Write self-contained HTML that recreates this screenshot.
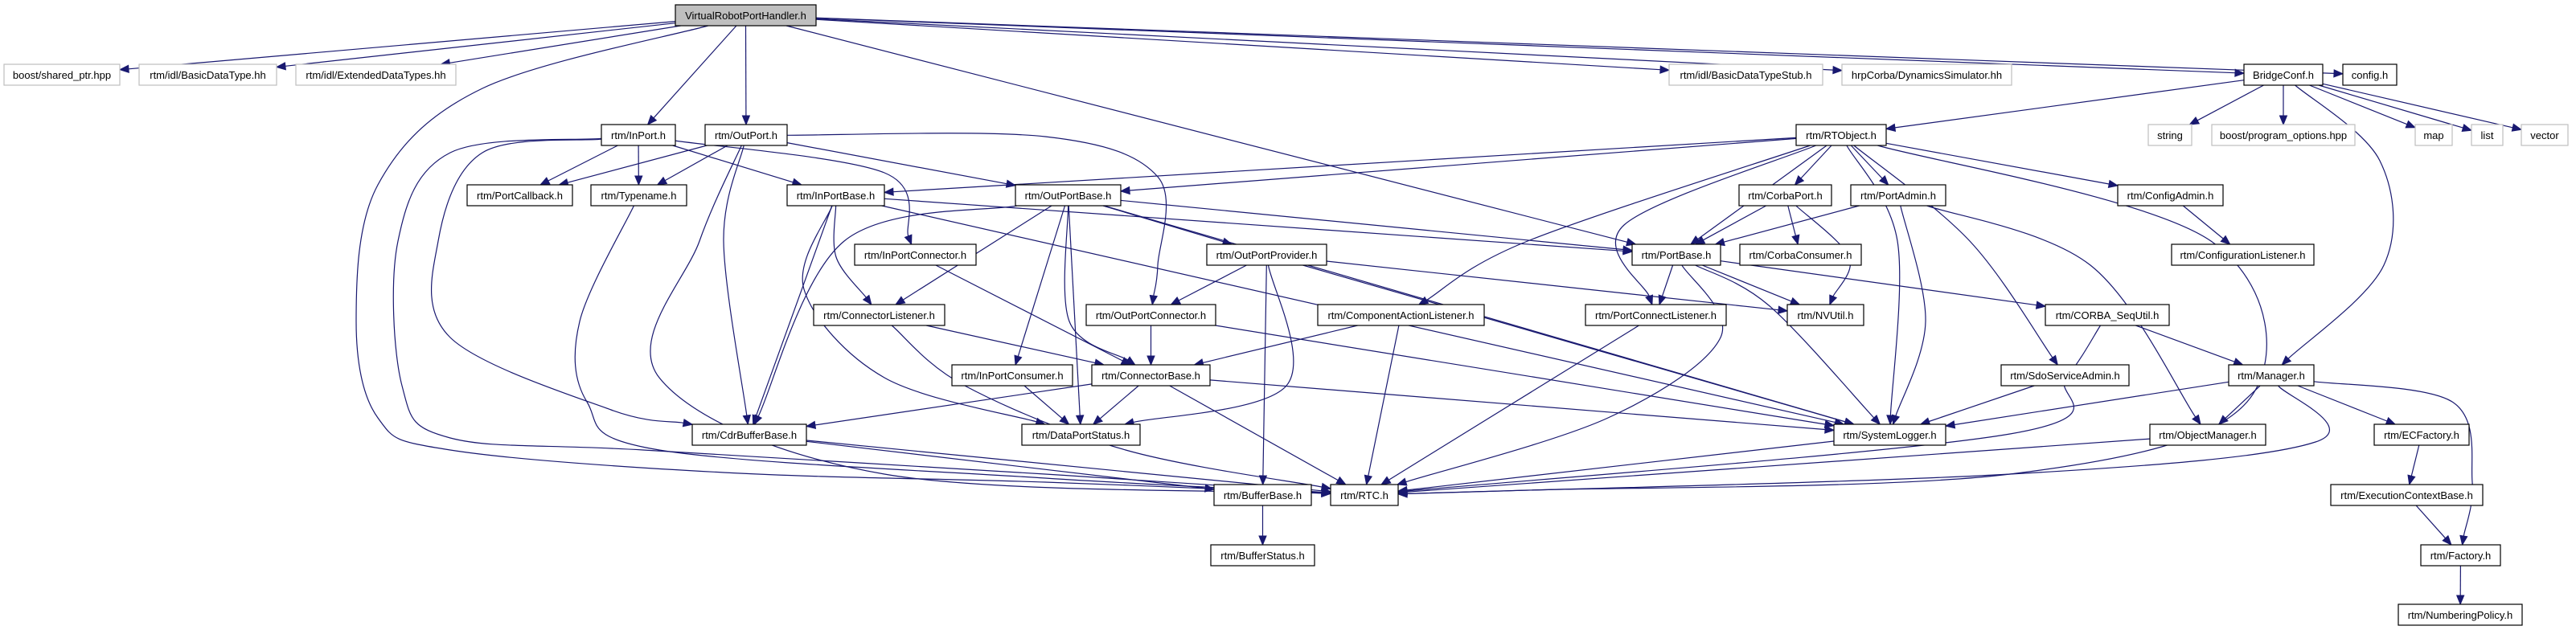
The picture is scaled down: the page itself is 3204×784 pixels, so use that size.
<!DOCTYPE html>
<html><head><meta charset="utf-8"><style>
html,body{margin:0;padding:0;background:#fff;}
svg{display:block;}
text{font-family:"Liberation Sans",sans-serif;font-size:13px;fill:#000;}
</style></head><body>
<svg id="g" width="3204" height="784" viewBox="0 0 3204 784" xmlns="http://www.w3.org/2000/svg">
<g id="edges"></g>
<g id="nodes" stroke-width="1.2">
<rect x="840" y="6" width="175" height="26" fill="#bfbfbf" stroke="#000"/><text x="927.5" y="24" text-anchor="middle">VirtualRobotPortHandler.h</text>
<rect x="5" y="80" width="144" height="26" fill="#fff" stroke="#bfbfbf"/><text x="77" y="98" text-anchor="middle">boost/shared_ptr.hpp</text>
<rect x="173" y="80" width="171" height="26" fill="#fff" stroke="#bfbfbf"/><text x="258.5" y="98" text-anchor="middle">rtm/idl/BasicDataType.hh</text>
<rect x="368" y="80" width="199" height="26" fill="#fff" stroke="#bfbfbf"/><text x="467.5" y="98" text-anchor="middle">rtm/idl/ExtendedDataTypes.hh</text>
<rect x="2076" y="80" width="191" height="26" fill="#fff" stroke="#bfbfbf"/><text x="2171.5" y="98" text-anchor="middle">rtm/idl/BasicDataTypeStub.h</text>
<rect x="2291" y="80" width="211" height="26" fill="#fff" stroke="#bfbfbf"/><text x="2396.5" y="98" text-anchor="middle">hrpCorba/DynamicsSimulator.hh</text>
<rect x="2791" y="80" width="98" height="26" fill="#fff" stroke="#000"/><text x="2840" y="98" text-anchor="middle">BridgeConf.h</text>
<rect x="2914" y="80" width="67" height="26" fill="#fff" stroke="#000"/><text x="2947.5" y="98" text-anchor="middle">config.h</text>

<rect x="748" y="155" width="92" height="26" fill="#fff" stroke="#000"/><text x="794" y="173" text-anchor="middle">rtm/InPort.h</text>
<rect x="877" y="155" width="102" height="26" fill="#fff" stroke="#000"/><text x="928" y="173" text-anchor="middle">rtm/OutPort.h</text>
<rect x="2234" y="155" width="112" height="26" fill="#fff" stroke="#000"/><text x="2290" y="173" text-anchor="middle">rtm/RTObject.h</text>
<rect x="2672" y="155" width="54" height="26" fill="#fff" stroke="#bfbfbf"/><text x="2699" y="173" text-anchor="middle">string</text>
<rect x="2751" y="155" width="178" height="26" fill="#fff" stroke="#bfbfbf"/><text x="2840" y="173" text-anchor="middle">boost/program_options.hpp</text>
<rect x="3004" y="155" width="46" height="26" fill="#fff" stroke="#bfbfbf"/><text x="3027" y="173" text-anchor="middle">map</text>
<rect x="3074" y="155" width="39" height="26" fill="#fff" stroke="#bfbfbf"/><text x="3093.5" y="173" text-anchor="middle">list</text>
<rect x="3136" y="155" width="58" height="26" fill="#fff" stroke="#bfbfbf"/><text x="3165" y="173" text-anchor="middle">vector</text>

<rect x="581" y="230" width="131" height="26" fill="#fff" stroke="#000"/><text x="646.5" y="248" text-anchor="middle">rtm/PortCallback.h</text>
<rect x="735" y="230" width="119" height="26" fill="#fff" stroke="#000"/><text x="794.5" y="248" text-anchor="middle">rtm/Typename.h</text>
<rect x="979" y="230" width="121" height="26" fill="#fff" stroke="#000"/><text x="1039.5" y="248" text-anchor="middle">rtm/InPortBase.h</text>
<rect x="1263" y="230" width="131" height="26" fill="#fff" stroke="#000"/><text x="1328.5" y="248" text-anchor="middle">rtm/OutPortBase.h</text>
<rect x="2163" y="230" width="115" height="26" fill="#fff" stroke="#000"/><text x="2220.5" y="248" text-anchor="middle">rtm/CorbaPort.h</text>
<rect x="2302" y="230" width="118" height="26" fill="#fff" stroke="#000"/><text x="2361" y="248" text-anchor="middle">rtm/PortAdmin.h</text>
<rect x="2634" y="230" width="131" height="26" fill="#fff" stroke="#000"/><text x="2699.5" y="248" text-anchor="middle">rtm/ConfigAdmin.h</text>

<rect x="1063" y="304" width="151" height="26" fill="#fff" stroke="#000"/><text x="1138.5" y="322" text-anchor="middle">rtm/InPortConnector.h</text>
<rect x="1501" y="304" width="149" height="26" fill="#fff" stroke="#000"/><text x="1575.5" y="322" text-anchor="middle">rtm/OutPortProvider.h</text>
<rect x="2030" y="304" width="110" height="26" fill="#fff" stroke="#000"/><text x="2085" y="322" text-anchor="middle">rtm/PortBase.h</text>
<rect x="2164" y="304" width="151" height="26" fill="#fff" stroke="#000"/><text x="2239.5" y="322" text-anchor="middle">rtm/CorbaConsumer.h</text>
<rect x="2701" y="304" width="177" height="26" fill="#fff" stroke="#000"/><text x="2789.5" y="322" text-anchor="middle">rtm/ConfigurationListener.h</text>

<rect x="1012" y="379" width="163" height="26" fill="#fff" stroke="#000"/><text x="1093.5" y="397" text-anchor="middle">rtm/ConnectorListener.h</text>
<rect x="1351" y="379" width="161" height="26" fill="#fff" stroke="#000"/><text x="1431.5" y="397" text-anchor="middle">rtm/OutPortConnector.h</text>
<rect x="1639" y="379" width="207" height="26" fill="#fff" stroke="#000"/><text x="1742.5" y="397" text-anchor="middle">rtm/ComponentActionListener.h</text>
<rect x="1972" y="379" width="175" height="26" fill="#fff" stroke="#000"/><text x="2059.5" y="397" text-anchor="middle">rtm/PortConnectListener.h</text>
<rect x="2223" y="379" width="95" height="26" fill="#fff" stroke="#000"/><text x="2270.5" y="397" text-anchor="middle">rtm/NVUtil.h</text>
<rect x="2544" y="379" width="154" height="26" fill="#fff" stroke="#000"/><text x="2621" y="397" text-anchor="middle">rtm/CORBA_SeqUtil.h</text>

<rect x="1184" y="454" width="150" height="26" fill="#fff" stroke="#000"/><text x="1259" y="472" text-anchor="middle">rtm/InPortConsumer.h</text>
<rect x="1358" y="454" width="147" height="26" fill="#fff" stroke="#000"/><text x="1431.5" y="472" text-anchor="middle">rtm/ConnectorBase.h</text>
<rect x="2489" y="454" width="159" height="26" fill="#fff" stroke="#000"/><text x="2568.5" y="472" text-anchor="middle">rtm/SdoServiceAdmin.h</text>
<rect x="2772" y="454" width="106" height="26" fill="#fff" stroke="#000"/><text x="2825" y="472" text-anchor="middle">rtm/Manager.h</text>

<rect x="861" y="528" width="142" height="26" fill="#fff" stroke="#000"/><text x="932" y="546" text-anchor="middle">rtm/CdrBufferBase.h</text>
<rect x="1271" y="528" width="147" height="26" fill="#fff" stroke="#000"/><text x="1344.5" y="546" text-anchor="middle">rtm/DataPortStatus.h</text>
<rect x="2281" y="528" width="139" height="26" fill="#fff" stroke="#000"/><text x="2350.5" y="546" text-anchor="middle">rtm/SystemLogger.h</text>
<rect x="2674" y="528" width="144" height="26" fill="#fff" stroke="#000"/><text x="2746" y="546" text-anchor="middle">rtm/ObjectManager.h</text>
<rect x="2953" y="528" width="118" height="26" fill="#fff" stroke="#000"/><text x="3012" y="546" text-anchor="middle">rtm/ECFactory.h</text>

<rect x="1510" y="603" width="121" height="26" fill="#fff" stroke="#000"/><text x="1570.5" y="621" text-anchor="middle">rtm/BufferBase.h</text>
<rect x="1655" y="603" width="84" height="26" fill="#fff" stroke="#000"/><text x="1697" y="621" text-anchor="middle">rtm/RTC.h</text>
<rect x="2899" y="603" width="189" height="26" fill="#fff" stroke="#000"/><text x="2993.5" y="621" text-anchor="middle">rtm/ExecutionContextBase.h</text>

<rect x="1506" y="678" width="129" height="26" fill="#fff" stroke="#000"/><text x="1570.5" y="696" text-anchor="middle">rtm/BufferStatus.h</text>
<rect x="3011" y="678" width="99" height="26" fill="#fff" stroke="#000"/><text x="3060.5" y="696" text-anchor="middle">rtm/Factory.h</text>

<rect x="2983" y="752" width="154" height="26" fill="#fff" stroke="#000"/><text x="3060" y="770" text-anchor="middle">rtm/NumberingPolicy.h</text>
</g>
</svg>
<script>
var R=[0,6,80,155,230,304,379,454,528,603,678,752];
var N={
V:[840,1015,1],boost:[5,149,2],bdt:[173,344,2],edt:[368,567,2],stub:[2076,2267,2],dyn:[2291,2502,2],bc:[2791,2889,2],cfg:[2914,2981,2],
inp:[748,840,3],outp:[877,979,3],rto:[2234,2346,3],str:[2672,2726,3],po:[2751,2929,3],map:[3004,3050,3],list:[3074,3113,3],vec:[3136,3194,3],
pcb:[581,712,4],tn:[735,854,4],ipb:[979,1100,4],opb:[1263,1394,4],cp:[2163,2278,4],pa:[2302,2420,4],ca:[2634,2765,4],
ipc:[1063,1214,5],opp:[1501,1650,5],pb:[2030,2140,5],cc:[2164,2315,5],cl:[2701,2878,5],
cnl:[1012,1175,6],opc:[1351,1512,6],cal:[1639,1846,6],pcl:[1972,2147,6],nv:[2223,2318,6],csu:[2544,2698,6],
ipcs:[1184,1334,7],cb:[1358,1505,7],sdo:[2489,2648,7],mgr:[2772,2878,7],
cdr:[861,1003,8],dps:[1271,1418,8],sl:[2281,2420,8],om:[2674,2818,8],ecf:[2953,3071,8],
bb:[1510,1631,9],rtc:[1655,1739,9],ecb:[2899,3088,9],bs:[1506,1635,10],fac:[3011,3110,10],np:[2983,3137,11]};
function box(k){var n=N[k];return {x1:n[0],x2:n[1],y1:R[n[2]],y2:R[n[2]]+26,cx:(n[0]+n[1])/2,cy:R[n[2]]+13};}
function clip(b,px,py){ // from center toward (px,py), find boundary point
 var dx=px-b.cx,dy=py-b.cy;var tx=dx?((dx>0?b.x2:b.x1)-b.cx)/dx:1e9;var ty=dy?((dy>0?b.y2:b.y1)-b.cy)/dy:1e9;var t=Math.min(tx,ty);return [b.cx+dx*t,b.cy+dy*t];}
var E=[
['V','boost'],['V','bdt'],['V','edt'],['V','inp'],['V','outp'],['V','pb'],['V','stub'],['V','dyn'],['V','bc'],['V','cfg'],
['V','rtc',[[600,110],[470,230],[443,400],[470,520],[560,560],[900,588],[1300,600]]],
['bc','str'],['bc','po'],['bc','map'],['bc','list'],['bc','vec'],['bc','rto'],['bc','mgr',[[2960,200],[2965,330]]],
['inp','pcb'],['inp','tn'],['inp','ipb'],['inp','ipc',[[1100,215]]],['inp','cdr',[[600,190],[545,300],[560,420],[760,510]]],
['inp','rtc',[[560,190],[495,300],[500,480],[560,545],[800,560],[1300,590]]],
['outp','pcb'],['outp','tn'],['outp','opb'],['outp','opc',[[1300,170],[1440,220],[1440,330]]],['outp','cdr',[[900,300]]],['outp','rtc',[[870,300],[820,470],[1100,590]]],
['tn','rtc',[[721,400],[730,500],[820,560],[1300,595]]],
['ipb','pb'],['ipb','cdr'],['ipb','cnl',[[1040,320]]],['ipb','dps',[[1000,360],[1100,470]]],['ipb','sl'],
['opb','pb'],['opb','opp'],['opb','cnl'],['opb','ipcs'],['opb','cb',[[1330,400]]],['opb','dps'],['opb','sl'],['opb','cdr',[[1050,300]]],
['rto','ipb'],['rto','opb'],['rto','pb'],['rto','cp'],['rto','pa'],['rto','ca'],['rto','cal',[[1900,300]]],['rto','pcl',[[2020,280]]],['rto','sl',[[2360,300]]],['rto','sdo',[[2450,300]]],['rto','rtc',[[2750,300],[2795,500],[2500,590],[1900,610]]],
['cp','pb'],['cp','cc'],['cp','nv',[[2300,320]]],
['pa','pb'],['pa','sl',[[2395,400]]],['pa','om',[[2600,330]]],
['ca','cl'],
['pb','pcl'],['pb','nv'],['pb','csu'],['pb','sl',[[2200,380]]],['pb','rtc',[[2140,420],[2000,520]]],
['opp','opc'],['opp','nv'],['opp','sl'],['opp','bb'],['opp','dps',[[1600,480]]],
['ipc','cb'],['cnl','cb'],['cnl','rtc',[[1200,480],[1400,560]]],['opc','cb'],['opc','sl'],
['cal','cb'],['cal','rtc'],['pcl','rtc'],
['csu','mgr'],['csu','rtc',[[2570,470],[2500,540]]],
['ipcs','dps'],['cb','cdr'],['cb','dps'],['cb','sl'],['cb','rtc'],
['sdo','sl'],['mgr','sl'],['mgr','om'],['mgr','ecf'],['mgr','fac',[[3050,500],[3075,600]]],['mgr','rtc',[[2880,550],[2500,590]]],
['cdr','bb'],['cdr','rtc'],['bb','bs'],['om','rtc'],['sl','rtc'],
['ecf','ecb'],['ecb','fac'],['fac','np']];
var s='';var C='#191970';
E.forEach(function(e){
 var a=box(e[0]),b=box(e[1]),w=e[2]||[];
 var first=w.length?w[0]:[b.cx,b.cy],last=w.length?w[w.length-1]:[a.cx,a.cy];
 var p0=clip(a,first[0],first[1]);var pt=clip(b,last[0],last[1]);
 var pts=[p0].concat(w).concat([pt]);
 var n=pts.length,ax=pts[n-2][0],ay=pts[n-2][1];
 var dx=pt[0]-ax,dy=pt[1]-ay,L=Math.sqrt(dx*dx+dy*dy)||1;dx/=L;dy/=L;
 var al=11,aw=4.5;var bx=pt[0]-dx*al,by=pt[1]-dy*al;
 pts[n-1]=[bx,by];
 var d='M'+pts[0][0].toFixed(1)+','+pts[0][1].toFixed(1);
 if(n==2){d+=' L'+bx.toFixed(1)+','+by.toFixed(1);}
 else{for(var i=0;i<n-1;i++){var p_=pts[Math.max(i-1,0)],p1=pts[i],p2=pts[i+1],p3=pts[Math.min(i+2,n-1)];
  var c1=[p1[0]+(p2[0]-p_[0])/6,p1[1]+(p2[1]-p_[1])/6],c2=[p2[0]-(p3[0]-p1[0])/6,p2[1]-(p3[1]-p1[1])/6];
  d+=' C'+c1[0].toFixed(1)+','+c1[1].toFixed(1)+' '+c2[0].toFixed(1)+','+c2[1].toFixed(1)+' '+p2[0].toFixed(1)+','+p2[1].toFixed(1);}}
 s+='<path d="'+d+'" fill="none" stroke="'+C+'" stroke-width="1.2"/>';
 s+='<polygon points="'+pt[0].toFixed(1)+','+pt[1].toFixed(1)+' '+(bx-dy*aw).toFixed(1)+','+(by+dx*aw).toFixed(1)+' '+(bx+dy*aw).toFixed(1)+','+(by-dx*aw).toFixed(1)+'" fill="'+C+'" stroke="'+C+'"/>';
});
document.getElementById('edges').innerHTML=s;
</script>
</body></html>
